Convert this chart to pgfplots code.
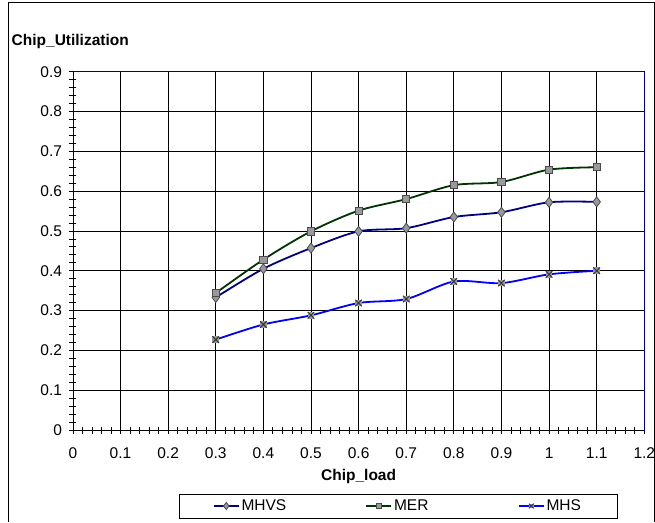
\documentclass[border=0pt]{standalone}
\usepackage{fontspec}
\setmainfont{Liberation Sans}
\usepackage{pgfplots}
\pgfplotsset{compat=1.18}
\definecolor{mnavy}{HTML}{000080}
\definecolor{mgreen}{HTML}{003300}
\definecolor{mblue}{HTML}{0000FF}
\definecolor{mgray}{HTML}{999999}
\pgfdeclareplotmark{xbox}{%
  \pgfpathrectangle{\pgfpoint{-\pgfplotmarksize}{-\pgfplotmarksize}}{\pgfpoint{2\pgfplotmarksize}{2\pgfplotmarksize}}%
  \pgfsetfillcolor{mgray}\pgfusepath{fill}%
  \pgfpathmoveto{\pgfpoint{-\pgfplotmarksize}{-\pgfplotmarksize}}\pgfpathlineto{\pgfpoint{\pgfplotmarksize}{\pgfplotmarksize}}%
  \pgfpathmoveto{\pgfpoint{-\pgfplotmarksize}{\pgfplotmarksize}}\pgfpathlineto{\pgfpoint{\pgfplotmarksize}{-\pgfplotmarksize}}%
  \pgfsetstrokecolor{black!80}\pgfsetlinewidth{0.9pt}\pgfusepath{stroke}}
\begin{document}
\begin{tikzpicture}
\fontsize{15.5}{18}\selectfont
\useasboundingbox (0,0) rectangle (655pt,522pt);
\draw[line width=1pt] (8.5pt,0pt) -- (8.5pt,519pt) -- (654pt,519pt) -- (654pt,0pt);
\node[anchor=west,inner sep=0pt,font=\bfseries\fontsize{15.5}{18}\selectfont] at (11.5pt,480.5pt) {Chip\_Utilization};
\begin{axis}[
  at={(72.9pt,92pt)}, anchor=south west,
  scale only axis, width=571.4pt, height=358.3pt,
  xmin=0, xmax=1.2, ymin=0, ymax=0.9,
  xtick={0,0.1,...,1.2}, ytick={0,0.1,...,0.9},
  minor x tick num=4, minor y tick num=4,
  tick align=center, major tick length=7pt, minor tick length=7pt,
  xtick pos=bottom, ytick pos=left,
  every tick/.style={black, line width=0.8pt},
  grid=major, major grid style={black, line width=0.8pt},
  axis line style={mnavy, line width=0.8pt},
  /pgf/number format/assume math mode=true,
  ticklabel style={font=\fontsize{15.5}{18}\selectfont},
  xticklabel style={yshift=-13pt, inner ysep=1pt},
  yticklabel style={xshift=-2pt},
  xlabel={Chip\_load},
  xlabel style={font=\bfseries\fontsize{15.5}{18}\selectfont, inner ysep=1pt, at={(rel axis cs:0.5,0)}, anchor=center, yshift=-46pt},
  legend columns=3,
  legend style={at={(axis description cs:0.569,-0.2121)}, anchor=center, draw=black, line width=0.8pt,
    font=\fontsize{15.5}{18}\selectfont, inner xsep=34pt, inner ysep=3.5pt,
    cells={anchor=west}},
  legend image code/.code={\draw[#1, line width=1.5pt] (0pt,0pt) -- (25pt,0pt); \draw[#1, line width=0.8pt, /tikz/every mark/.append style={scale=0.72}] plot coordinates {(12.5pt,0pt)};},
]
\addplot[mnavy, line width=1.8pt, smooth, mark=diamond*, mark size=5pt,
  mark options={fill=mgray, draw=black!70, line width=0.8pt}]
  coordinates {(0.3,0.333) (0.4,0.405) (0.5,0.457) (0.6,0.499) (0.7,0.507) (0.8,0.535) (0.9,0.547) (1.0,0.572) (1.1,0.573)};
\addlegendentry{\makebox[122pt][l]{MHVS}}
\addplot[mgreen, line width=1.8pt, smooth, mark=square*, mark size=3.6pt,
  mark options={fill=mgray, draw=black!70, line width=0.8pt}]
  coordinates {(0.3,0.344) (0.4,0.428) (0.5,0.499) (0.6,0.551) (0.7,0.580) (0.8,0.615) (0.9,0.623) (1.0,0.654) (1.1,0.660)};
\addlegendentry{\makebox[122pt][l]{MER}}
\addplot[mblue, line width=1.8pt, smooth, mark=xbox, mark size=3.3pt]
  coordinates {(0.3,0.227) (0.4,0.265) (0.5,0.288) (0.6,0.319) (0.7,0.329) (0.8,0.373) (0.9,0.369) (1.0,0.391) (1.1,0.400)};
\addlegendentry{MHS}
\draw[black, line width=0.8pt] (rel axis cs:0,0) -- (rel axis cs:0,1);
\draw[black, line width=0.8pt] (rel axis cs:0,0) -- (rel axis cs:1,0);
\end{axis}
\end{tikzpicture}
\end{document}
